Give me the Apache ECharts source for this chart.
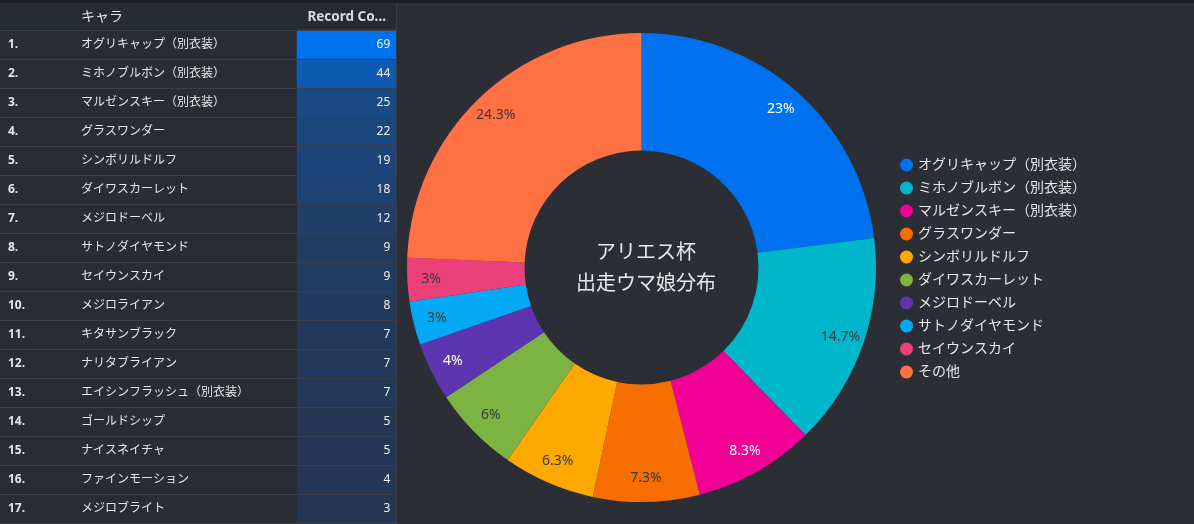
<!DOCTYPE html>
<html><head><meta charset="utf-8">
<script src="https://cdn.jsdelivr.net/npm/echarts@6/dist/echarts.min.js"></script>
<style>html,body{margin:0;padding:0;background:#2c2e36;overflow:hidden}#c{width:1194px;height:524px}</style>
</head><body><div id="c"></div><script>
// ---- data ----
const headerLabels = ['キャラ', 'Record Co...'];
const characterNames = ['オグリキャップ（別衣装）','ミホノブルボン（別衣装）','マルゼンスキー（別衣装）','グラスワンダー','シンボリルドルフ','ダイワスカーレット','メジロドーベル','サトノダイヤモンド','セイウンスカイ','メジロライアン','キタサンブラック','ナリタブライアン','エイシンフラッシュ（別衣装）','ゴールドシップ','ナイスネイチャ','ファインモーション','メジロブライト'];
const recordCounts = [69,44,25,22,19,18,12,9,9,8,7,7,7,5,5,4,3];
const pieNames = ['オグリキャップ（別衣装）','ミホノブルボン（別衣装）','マルゼンスキー（別衣装）','グラスワンダー','シンボリルドルフ','ダイワスカーレット','メジロドーベル','サトノダイヤモンド','セイウンスカイ','その他'];
const pieValues = [69,44,25,22,19,18,12,9,9,73];
const centerTitle = ['アリエス杯', '出走ウマ娘分布'];

// ---- styles ----
const sliceColors = ['#0072f0','#00b6cb','#f10096','#f66d00','#ffa800','#7cb342','#5e35b1','#03a9f4','#ec407a','#ff7043'];
const sliceLabelColors = ['#ffffff','#3a3a3a','#ffffff','#3a3a3a','#3a3a3a','#3a3a3a','#ffffff','#3a3a3a','#3a3a3a','#3a3a3a'];
const FONT = "'Noto Sans', 'Noto Sans CJK JP', sans-serif";
const pieTotal = pieValues.reduce((a, b) => a + b, 0);
const fmtPct = v => { const p = Math.round(v / pieTotal * 1000) / 10; return p + '%'; };

const chart = echarts.init(document.getElementById('c'), null, {renderer: 'canvas'});
chart.setOption({
  backgroundColor: '#2c2e36',
  textStyle: {fontFamily: FONT},
  animation: false,
  graphic: [
    {type: 'rect', shape: {x: 0, y: 0, width: 1194, height: 3}, style: {fill: '#1d1e21'}, z: -10},
    {type: 'rect', shape: {x: 0, y: 3, width: 396, height: 521}, style: {fill: '#2a2c33'}, z: -10},
    {type: 'rect', shape: {x: 0, y: 3, width: 396, height: 27}, style: {fill: '#262b32'}, z: -9},
    {type: 'line', shape: {x1: 396.5, y1: 3, x2: 396.5, y2: 524}, style: {stroke: '#3a3c43', lineWidth: 1}, z: 10},
    {type: 'text', style: {text: headerLabels[0], x: 81, y: 17, verticalAlign: 'middle', fill: '#e4e4e4', font: '14px ' + FONT}, z: 10},
    {type: 'text', style: {text: headerLabels[1], x: 386, y: 17, align: 'right', verticalAlign: 'middle', fill: '#dcdcdc', font: 'bold 13.5px ' + FONT}, z: 10},
    {type: 'text', style: {text: centerTitle.join('\n'), x: 646, y: 269, align: 'center', verticalAlign: 'middle', fill: '#e8e8e8', font: '20px ' + FONT, lineHeight: 31}, z: 10}
  ],
  grid: [
    {left: 0, top: 30, width: 396, height: 493},
    {left: 297, top: 30, width: 99, height: 493}
  ],
  xAxis: [
    {type: 'value', gridIndex: 0, show: false, min: 0, max: 1},
    {type: 'category', gridIndex: 1, show: false, data: ['Record Count']}
  ],
  yAxis: [
    {type: 'category', gridIndex: 0, data: characterNames, inverse: true, z: 5,
     axisLine: {show: false}, axisTick: {show: false},
     splitLine: {show: true, interval: 0, lineStyle: {color: '#3b3e46', width: 1}},
     axisLabel: {inside: true, margin: 8, interval: 0,
       formatter: (v, i) => '{r|' + (i + 1) + '.}{n|' + v + '}',
       rich: {
         r: {width: 73, fontSize: 12, fontWeight: 'bold', color: '#e6e6e6', fontFamily: FONT},
         n: {fontSize: 12, color: '#e6e6e6', fontFamily: FONT}
       }}},
    {type: 'category', gridIndex: 1, data: characterNames, inverse: true, show: false}
  ],
  visualMap: {type: 'continuous', show: false, min: 0, max: 69, dimension: 2, seriesIndex: 0,
    inRange: {color: ['#27334a', '#0072f0']}},
  legend: {
    orient: 'vertical', left: 895, top: 152, icon: 'circle', itemWidth: 13, itemHeight: 13, itemGap: 7,
    data: pieNames,
    textStyle: {color: '#e8e8e8', fontSize: 14, fontFamily: FONT, lineHeight: 16}
  },
  series: [
    {type: 'heatmap', xAxisIndex: 1, yAxisIndex: 1,
     data: recordCounts.map((v, i) => [0, i, v]),
     itemStyle: {borderWidth: 0},
     label: {show: true, position: 'insideRight', distance: 6, color: '#f2f2f2', fontSize: 12, fontFamily: FONT},
     emphasis: {disabled: true}},
    {type: 'pie', name: 'main', center: [641.5, 267.5], radius: [117, 234.5], startAngle: 90, clockwise: true,
     label: {show: false}, labelLine: {show: false}, emphasis: {disabled: true},
     data: pieNames.map((n, i) => ({name: n, value: pieValues[i], itemStyle: {color: sliceColors[i]}}))},
    {type: 'pie', name: 'labels', center: [641.5, 267.5], radius: [181, 234.5], startAngle: 90, clockwise: true,
     silent: true, emphasis: {disabled: true}, labelLine: {show: false},
     itemStyle: {color: 'rgba(0,0,0,0)'},
     label: {show: true, position: 'inside', fontSize: 14, fontFamily: FONT, formatter: p => fmtPct(p.value)},
     data: pieNames.map((n, i) => ({name: n, value: pieValues[i], label: {color: sliceLabelColors[i]}}))}
  ]
});
</script></body></html>
